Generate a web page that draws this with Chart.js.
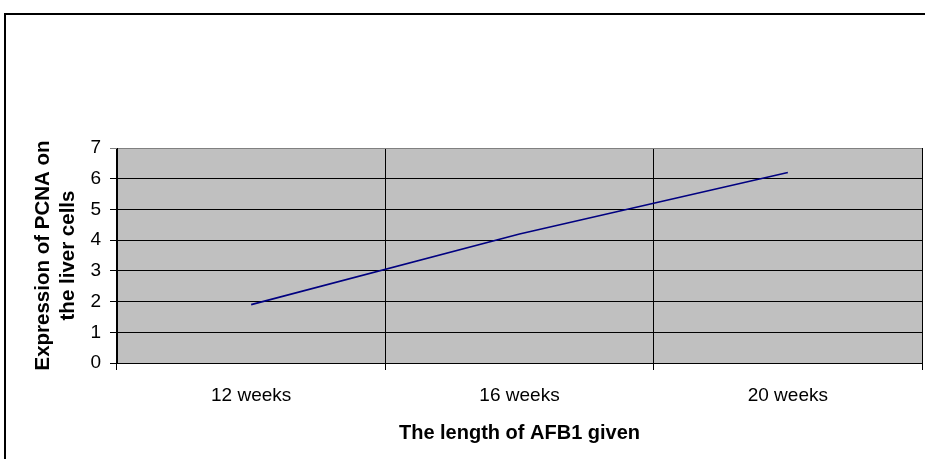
<!DOCTYPE html>
<html>
<head>
<meta charset="utf-8">
<title>PCNA expression vs AFB1 exposure</title>
<script src="https://cdn.jsdelivr.net/npm/chart.js@4.4.1/dist/chart.umd.min.js"></script>
<style>
  html, body { margin: 0; padding: 0; background: #ffffff; }
  #wrap { width: 925px; height: 459px; position: relative; }
</style>
</head>
<body>
<div id="wrap"><canvas id="chart" width="925" height="459"></canvas></div>
<script>
// Exposure periods and measured PCNA expression
const categories = ['12 weeks', '16 weeks', '20 weeks'];
const pcnaValues = [1.9, 4.2, 6.2];
const yTicks = [0, 1, 2, 3, 4, 5, 6, 7];

const FONT = '"Liberation Sans", Arial, Helvetica, sans-serif';

// Grey plot area and the thin frame round the whole figure
const framePlugin = {
  id: 'frame',
  beforeDraw(chart) {
    const { ctx, chartArea: a } = chart;
    ctx.save();
    ctx.fillStyle = '#ffffff';
    ctx.fillRect(0, 0, chart.width, chart.height);
    ctx.fillStyle = '#c0c0c0';
    ctx.fillRect(a.left, a.top, a.right - a.left, a.bottom - a.top);
    ctx.strokeStyle = '#000000';
    ctx.lineWidth = 2;
    ctx.strokeRect(5, 14, 1000, 1000);
    ctx.restore();
  }
};

new Chart(document.getElementById('chart'), {
  type: 'line',
  data: {
    labels: categories,
    datasets: [{
      data: pcnaValues,
      borderColor: '#000080',
      borderWidth: 1.6,
      pointRadius: 0,
      tension: 0,
      fill: false
    }]
  },
  options: {
    responsive: false,
    animation: false,
    devicePixelRatio: 1,
    layout: { padding: { left: 0, top: 148, right: 3, bottom: 0 } },
    plugins: {
      legend: { display: false },
      tooltip: { enabled: false }
    },
    scales: {
      x: {
        type: 'category',
        offset: true,
        grid: {
          offset: true,
          drawTicks: true,
          tickLength: 7,
          lineWidth: 1,
          color: (c) => (c.index === categories.length ? '#808080' : '#000000')
        },
        border: { display: true, color: '#000000', width: 1 },
        ticks: {
          color: '#000000',
          font: { family: FONT, size: 19 },
          padding: 14,
          maxRotation: 0
        },
        title: {
          display: true,
          text: 'The length of AFB1 given',
          color: '#000000',
          font: { family: FONT, size: 20, weight: 'bold', lineHeight: 1.1 },
          padding: { top: 0, bottom: 15 }
        },
        afterFit(scale) { scale.height = 96; }
      },
      y: {
        min: 0,
        max: 7,
        afterBuildTicks(scale) { scale.ticks = yTicks.map(v => ({ value: v })); },
        grid: {
          drawTicks: true,
          tickLength: 7,
          lineWidth: 1,
          color: (c) => (c.tick && c.tick.value === 7 ? '#808080' : '#000000')
        },
        border: { display: true, color: '#000000', width: 1 },
        ticks: {
          color: '#000000',
          font: { family: FONT, size: 19 },
          padding: 9
        },
        title: {
          display: true,
          text: ['Expression of PCNA on', 'the liver cells'],
          color: '#000000',
          font: { family: FONT, size: 20.5, weight: 'bold', lineHeight: 1.2 },
          padding: { top: 31, bottom: 0 }
        },
        afterFit(scale) { scale.width = 117; }
      }
    }
  },
  plugins: [framePlugin]
});
</script>
</body>
</html>
